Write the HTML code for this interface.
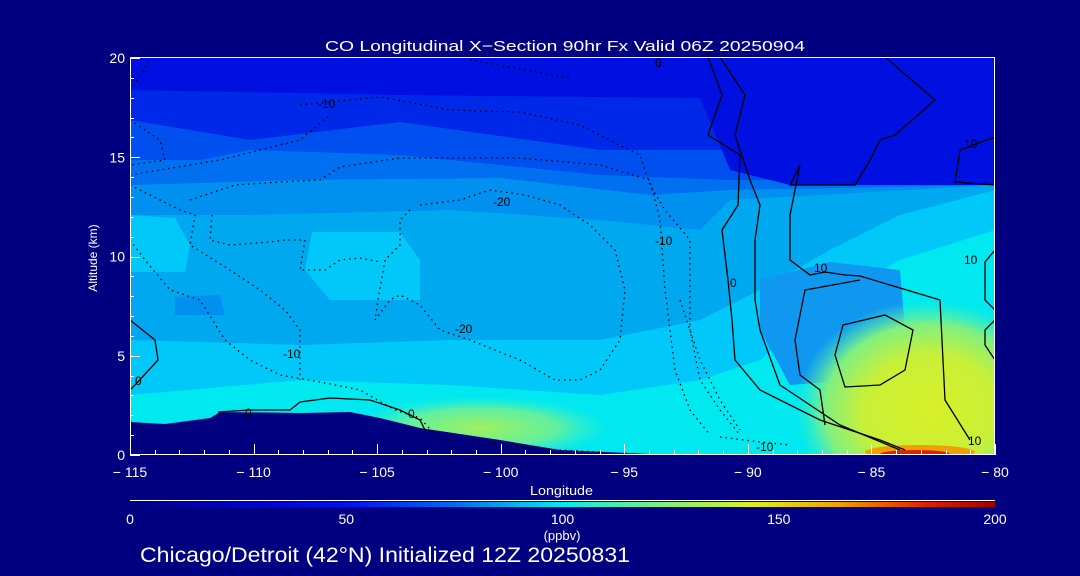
<!DOCTYPE html>
<html><head><meta charset="utf-8"><style>
html,body{margin:0;padding:0;background:#000080;}
svg{display:block;font-family:"Liberation Sans",sans-serif;}
</style></head><body>
<svg id="chart" width="1080" height="576" viewBox="0 0 1080 576" xmlns="http://www.w3.org/2000/svg">
<rect width="1080" height="576" fill="#000080"/>
<defs>
<clipPath id="pc"><rect x="130" y="57" width="865" height="398"/></clipPath>
<linearGradient id="cbg" x1="0" x2="1" y1="0" y2="0">
<stop offset="0" stop-color="#000080"/><stop offset="0.12" stop-color="#0000c8"/><stop offset="0.25" stop-color="#0010f0"/>
<stop offset="0.38" stop-color="#0070f0"/><stop offset="0.5" stop-color="#00f0f0"/><stop offset="0.62" stop-color="#80f080"/>
<stop offset="0.72" stop-color="#e0f020"/><stop offset="0.82" stop-color="#f0a000"/><stop offset="0.92" stop-color="#e02000"/><stop offset="1" stop-color="#a00000"/>
</linearGradient>
<radialGradient id="yb" cx="0.5" cy="0.5" r="0.5">
<stop offset="0" stop-color="#d8f028"/><stop offset="0.5" stop-color="#c8f038"/><stop offset="0.78" stop-color="#80f080"/><stop offset="1" stop-color="#40f0c0" stop-opacity="0"/>
</radialGradient>
<radialGradient id="gb" cx="0.5" cy="0.5" r="0.5">
<stop offset="0" stop-color="#a0f060"/><stop offset="0.6" stop-color="#60f0a0"/><stop offset="1" stop-color="#30f0d0" stop-opacity="0"/>
</radialGradient>
</defs>
<g clip-path="url(#pc)">
<rect x="130" y="57" width="865" height="400" fill="#00e8f0"/>
<polygon fill="#00c8f8" points="130,57 995,57 995,230 900,260 830,300 760,360 700,380 600,395 450,385 300,380 130,395"/>
<polygon fill="#00a8f0" points="130,57 995,57 995,190 900,215 830,250 760,290 700,320 600,340 450,340 300,345 130,340"/>
<polygon fill="#00c8f8" points="130,215 175,218 190,245 185,272 130,272"/>
<polygon fill="#00c8f8" points="312,232 400,232 420,260 420,300 330,300 305,270"/>
<polygon fill="#0090f0" points="130,57 995,57 995,185 730,200 700,230 600,220 450,210 250,215 130,215"/>
<polygon fill="#1098f0" points="760,280 830,262 900,270 905,330 860,380 790,385 760,330"/>
<polygon fill="#0090f0" points="175,297 220,295 225,315 175,315"/>
<polygon fill="#0070f0" points="130,57 995,57 995,185 730,190 650,195 500,178 300,180 130,185"/>
<polygon fill="#0050f0" points="130,57 995,57 995,180 730,180 600,175 400,155 250,150 200,160 130,160"/>
<polygon fill="#0028e8" points="130,57 995,57 995,150 600,150 400,122 250,140 130,120"/>
<polygon fill="#0010e0" points="130,57 995,57 995,185 790,185 730,170 700,98 400,95 130,90"/>
<ellipse cx="480" cy="428" rx="130" ry="32" fill="url(#gb)"/>
<ellipse cx="930" cy="410" rx="135" ry="110" fill="url(#yb)"/>
<ellipse cx="920" cy="452" rx="55" ry="7" fill="#f0a000"/>
<ellipse cx="915" cy="454" rx="35" ry="4" fill="#e02000"/>
<polygon fill="#000080" points="130,422 165,424 210,418 220,412 300,413 350,412 380,418 420,428 500,440 560,450 650,454 995,455 995,460 130,460"/>
<g fill="none" stroke="#000" stroke-width="1.3">
<path d="M708,57 L722,95 L708,135 L740,155 L738,205 L722,230 L728,280 L732,320 L735,360 L760,390 L820,420 L880,440 L905,450"/>
<path d="M720,57 L745,95 L735,135 L750,180 L760,205 L755,240 L755,300 L760,330 L780,385 L840,425 L900,450"/>
<path d="M885,57 L935,100 L895,135 L880,140 L870,160 L855,185 L790,185 L800,165 L790,215 L790,260 L810,275 L825,272 L845,275 L860,276 L940,300 L945,400 L970,440"/>
<path d="M860,280 L805,290 L795,340 L800,375 L820,390 L825,425"/>
<path d="M843,325 L885,315 L913,330 L905,370 L880,385 L845,387 L835,355 Z"/>
<path d="M995,137 L960,150 L955,182 L995,185"/>
<path d="M995,250 L985,262 L985,300 L995,310"/>
<path d="M995,320 L985,330 L985,345 L995,360"/>
<path d="M130,320 L155,340 L158,360 L135,385 L130,390"/>
<path d="M218,412 L250,410 L290,410 L300,402 L330,398 L370,400 L400,410 L420,420 L425,430"/>
</g>
<g fill="none" stroke="#000" stroke-width="1.3" stroke-dasharray="1.5,4">
<path d="M130,90 L150,60 M470,60 L570,78 M300,105 L380,97 L450,110 L520,112 L580,125 L625,148 L640,155 L650,185 L665,210 L690,240 L690,330 L700,380 L720,410 L740,435"/>
<path d="M130,120 L160,140 L165,160 L130,165 M130,175 L220,160 L300,140 L330,115"/>
<path d="M190,200 L235,185 L280,182 L320,180 L340,167 L400,158 L520,158 L600,165 L650,180 L660,220 L665,290 L670,330 L675,370 L690,410 L710,435"/>
<path d="M130,185 L160,200 L180,210 L195,215 L190,245 L230,270 L260,290 L285,310 L300,330 L300,360 L300,380"/>
<path d="M212,215 L210,240 L230,245 L270,242 L285,240 L305,240 L300,270 L325,270 L340,260 L360,258 L380,262"/>
<path d="M410,210 L400,220 L400,245 L385,260 L378,300 L375,320 L390,300 L400,295 L420,305 L440,330 L470,340 L520,360 L555,380 L580,380 L600,370 L620,340 L625,290 L615,250 L590,225 L560,205 L525,195 L490,190 L460,200 L420,205"/>
<path d="M130,240 L145,260 L170,290 L200,300 L225,340 L250,360 L280,375 L320,382 L360,390 L395,410 L420,418 L440,440 L500,445 L560,450 L600,452"/>
<path d="M680,300 L700,360 L720,400 L740,430 M720,437 L760,442 L790,445"/>
</g>
<g font-size="12" fill="#000">
<text x="318" y="108">-10</text><text x="493" y="206">-20</text><text x="455" y="333">-20</text>
<text x="283" y="358">-10</text><text x="655" y="245">-10</text><text x="756" y="451">-10</text>
<text x="730" y="287">0</text><text x="814" y="272">10</text><text x="964" y="264">10</text><text x="964" y="148">10</text>
<text x="968" y="445">10</text><text x="135" y="385">0</text><text x="245" y="417">0</text><text x="408" y="418">0</text><text x="655" y="67">0</text>
</g>
</g>
<g id="axes" stroke="#fff" fill="none" stroke-width="1">
<rect x="130.5" y="57.5" width="864" height="397"/>
</g>
<g id="xt"></g>
<g id="yt"></g>
<text x="325" y="51" fill="#fff" font-size="15" textLength="480" lengthAdjust="spacingAndGlyphs">CO Longitudinal X−Section 90hr  Fx Valid 06Z 20250904</text>
<text x="530" y="495" fill="#fff" font-size="13" textLength="63" lengthAdjust="spacingAndGlyphs">Longitude</text>
<text x="97" y="258" fill="#fff" font-size="12" text-anchor="middle" transform="rotate(-90 97 258)">Altitude (km)</text>
<line x1="130" y1="500.5" x2="995" y2="500.5" stroke="#fff"/>
<rect x="130" y="502" width="865" height="5" fill="url(#cbg)"/>
<g id="cb"></g>
<text x="562" y="540" fill="#fff" font-size="13" text-anchor="middle">(ppbv)</text>
<text x="140" y="562" fill="#fff" font-size="21" textLength="490" lengthAdjust="spacingAndGlyphs">Chicago/Detroit (42°N) Initialized 12Z 20250831</text>
<script>
const xTicks=[-115,-110,-105,-100,-95,-90,-85,-80];
const yTicks=[0,5,10,15,20];
const cbTicks=[0,50,100,150,200];
const NS='http://www.w3.org/2000/svg';
function xs(v){return 130+(v+115)*865/35;}
function ys(v){return 455-v*397/20;}
function cs(v){return 130+v*865/200;}
const xg=document.getElementById('xt'),yg=document.getElementById('yt'),cg=document.getElementById('cb');
function ln(g,x1,y1,x2,y2){const l=document.createElementNS(NS,'line');l.setAttribute('x1',x1);l.setAttribute('y1',y1);l.setAttribute('x2',x2);l.setAttribute('y2',y2);l.setAttribute('stroke','#fff');


g.appendChild(l);}
function tx(g,x,y,s,anchor){const t=document.createElementNS(NS,'text');t.setAttribute('x',x);t.setAttribute('y',y);t.setAttribute('fill','#fff');t.setAttribute('font-size','14');t.setAttribute('text-anchor',anchor);t.textContent=s;


g.appendChild(t);}
for(let v=xTicks[0];v<=xTicks[xTicks.length-1];v++){const x=Math.round(xs(v))+0.5;const major=xTicks.includes(v);ln(xg,x,455,x,major?444:450);}
xTicks.forEach(v=>tx(xg,xs(v),477,String(v).replace('-','− '),'middle'));
for(let v=0;v<=20;v++){const y=Math.round(ys(v))+0.5;ln(yg,130,y,yTicks.includes(v)?140:134,y);}
yTicks.forEach(v=>tx(yg,125,ys(v)+5,String(v),'end'));
cbTicks.forEach(v=>tx(cg,cs(v),524,String(v),'middle'));
</script>
</svg>
</body></html>
